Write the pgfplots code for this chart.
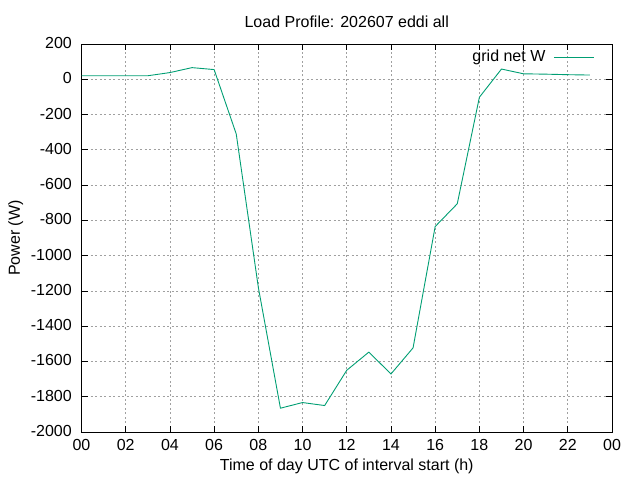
\documentclass[border=0pt]{standalone}
\usepackage{pgfplots}
\pgfplotsset{compat=1.18}
\usepackage{fontspec}
\setmainfont{Liberation Sans}
\definecolor{gpgreen}{RGB}{0,158,115}
\definecolor{gpgrid}{RGB}{160,160,160}
\begin{document}
\fontsize{16pt}{19pt}\selectfont
\begin{tikzpicture}
\useasboundingbox (0,0) rectangle (640pt,480pt);
\begin{axis}[
  at={(81.5pt,48pt)}, anchor=south west,
  scale only axis, width=530.5pt, height=388pt,
  xmin=0, xmax=24, ymin=-2000, ymax=200,
  xtick={0,2,...,24},
  xticklabels={00,02,04,06,08,10,12,14,16,18,20,22,00},
  ytick={-2000,-1800,...,200},
  yticklabels={-2000,-1800,-1600,-1400,-1200,-1000,-800,-600,-400,-200,0,200},
  tick align=inside, major tick length=6pt,
  tick style={black, line width=0.8pt},
  axis line style={black, line width=0.9pt},
  grid=major,
  major grid style={gpgrid, line width=0.7pt, dash pattern=on 2pt off 2.5pt},
  font=\fontsize{16pt}{19pt}\selectfont,
  xticklabel style={anchor=base, inner sep=0pt, yshift=-18pt},
  yticklabel style={anchor=east, inner sep=0pt, xshift=-9.5pt, yshift=1pt},
  title={Load Profile: 202607 eddi all},
  title style={at={(rel axis cs:0.5,1)}, anchor=base, inner sep=0pt, yshift=10.5pt},
  xlabel={Time of day UTC of interval start (h)},
  xlabel style={at={(rel axis cs:0.5,0)}, anchor=base, inner sep=0pt, yshift=-38.7pt},
  ylabel={Power (W)},
  ylabel style={at={(rel axis cs:0,0.5)}, anchor=base, inner sep=0pt, yshift=61.5pt},
  legend plot pos=right,
  legend image code/.code={\draw[#1] (0pt,0pt) -- (40pt,0pt);},
  legend style={at={(rel axis cs:1,1)}, anchor=north east, xshift=-17.5pt, yshift=-6pt,
    draw=none, fill=none, inner sep=0pt, column sep=8pt, nodes={inner sep=0pt}},
]
\addplot[gpgreen, line width=0.9pt] coordinates {
(0,20) (1,20) (2,20) (3,20) (4,38) (5,66) (6,55) (7,-310) (8,-1180)
(9,-1865) (10,-1833) (11,-1850) (12,-1650) (13,-1547) (14,-1671) (15,-1523)
(16,-835) (17,-706) (18,-102) (19,58) (20,31) (21,29) (22,26) (23,24)
};
\addlegendentry{grid net W}
\end{axis}
\end{tikzpicture}
\end{document}
